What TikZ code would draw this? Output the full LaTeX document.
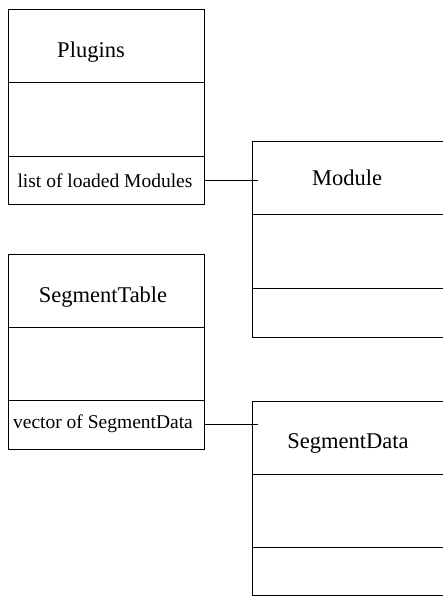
\documentclass[tikz,border=0pt]{standalone}
\usepackage{fontspec}
\setmainfont{Liberation Serif}
\begin{document}
\begin{tikzpicture}[x=1pt,y=-1pt,
  comp/.style={draw=black,line width=0.8pt,rectangle,inner sep=0pt,outer sep=0pt,anchor=north west},
  titletext/.style={inner sep=0pt,font=\fontsize{22.5}{27}\selectfont},
  attrtext/.style={inner sep=0pt,font=\fontsize{19.5}{23}\selectfont},
  link/.style={draw=black,line width=0.8pt}]
\clip (0,0) rectangle (443,596);
\useasboundingbox (0,0) rectangle (443,596);
% Plugins
\node[comp,minimum width=196pt,minimum height=73pt] (plT) at (8,9) {};
\node[comp,minimum width=196pt,minimum height=74pt] (plB) at (8,82) {};
\node[comp,minimum width=196pt,minimum height=48pt] (plA) at (8,156) {};
\node[titletext] (plName) at (91,52) {Plugins};
\node[attrtext] (plAttr) at (105,181) {list of loaded Modules};
% Module
\node[comp,minimum width=193pt,minimum height=73pt] (mT) at (252,141) {};
\node[comp,minimum width=193pt,minimum height=74pt] (mB) at (252,214) {};
\node[comp,minimum width=193pt,minimum height=49pt] (mA) at (252,288) {};
\node[titletext] (mName) at (347,178) {Module};
% SegmentTable
\node[comp,minimum width=196pt,minimum height=73pt] (sT) at (8,254) {};
\node[comp,minimum width=196pt,minimum height=73pt] (sB) at (8,327) {};
\node[comp,minimum width=196pt,minimum height=49pt] (sA) at (8,400) {};
\node[titletext] (sName) at (103,297) {SegmentTable};
\node[attrtext] (sAttr) at (103,424) {vector of SegmentData};
% SegmentData
\node[comp,minimum width=193pt,minimum height=73pt] (dT) at (252,401) {};
\node[comp,minimum width=193pt,minimum height=73pt] (dB) at (252,474) {};
\node[comp,minimum width=193pt,minimum height=48pt] (dA) at (252,547) {};
\node[titletext] (dName) at (348,443) {SegmentData};
% connectors
\coordinate (mEnd) at (258,180);
\coordinate (dEnd) at (258,424.5);
\draw[link] (plA.east) -- (plA.east -| mEnd);
\draw[link] (sA.east) -- (sA.east -| dEnd);
\end{tikzpicture}
\end{document}
